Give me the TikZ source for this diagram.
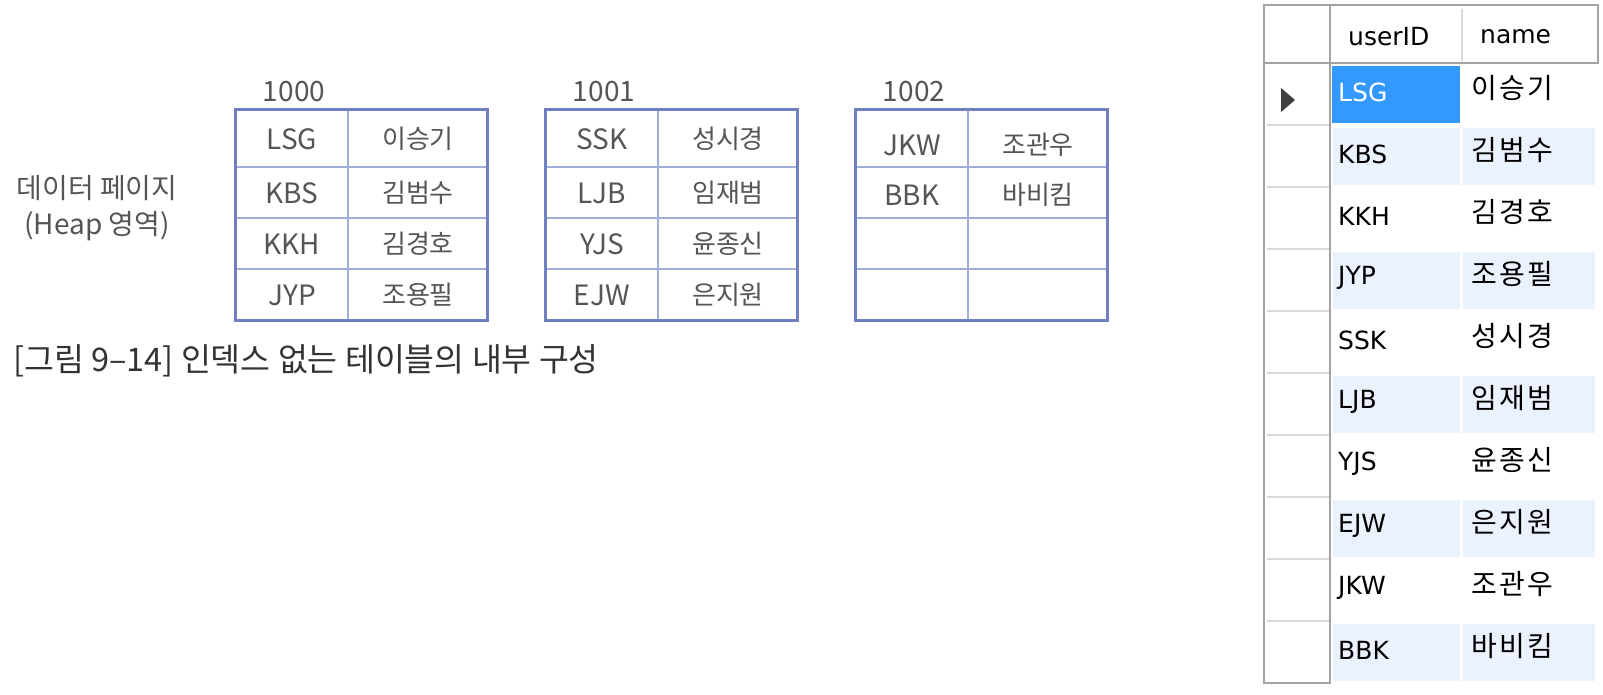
\documentclass[tikz,border=0pt]{standalone}
\usepackage{fontspec}
\setmainfont{Noto Sans CJK KR}
\newfontfamily\uifont{DejaVu Sans}
\newfontfamily\gridkr[LetterSpace=9]{Noto Sans CJK KR}
\usepackage{tikz}
\usetikzlibrary{positioning}

\definecolor{pageblue}{HTML}{6F7FBF}
\definecolor{pagesoft}{HTML}{A2AEDA}
\definecolor{cellgray}{HTML}{555555}
\definecolor{gridgray}{HTML}{A3A3A3}
\definecolor{gridsoft}{HTML}{DADADA}
\definecolor{stripeblue}{HTML}{EAF2FD}
\definecolor{selblue}{HTML}{3399FF}

\begin{document}
\begin{tikzpicture}[
  x=1pt, y=-1pt,
  tframe/.style={draw=pageblue, line width=3pt},
  tline/.style={draw=pagesoft, line width=1.4pt},
  cellid/.style={text=cellgray, inner sep=0pt, font=\fontsize{28}{32}\selectfont},
  cellnm/.style={text=cellgray, inner sep=0pt, font=\fontsize{26}{30}\selectfont},
  pageno/.style={text=cellgray, inner sep=0pt, font=\fontsize{28}{32}\selectfont},
  gridline/.style={draw=gridgray, line width=2.6pt},
  gridthin/.style={draw=gridsoft, line width=1.4pt},
  stripe/.style={fill=stripeblue},
  rowid/.style={anchor=west, inner sep=0pt, font=\uifont\fontsize{25}{30}\selectfont},
  rownm/.style={anchor=west, inner sep=0pt, font=\gridkr\fontsize{28}{32}\selectfont}
]
\useasboundingbox[fill=white] (0,0) rectangle (1603,695);

% data pages
\node[text=cellgray, align=center, font=\fontsize{28}{36}\selectfont] (heap) at (97,208) {데이터 페이지\\(Heap 영역)};
\foreach \t/\x in {0/235,1/545,2/855} {
  \draw[tline] (\x+113,110) -- (\x+113,320);
  \foreach \y in {167,218,269} \draw[tline] (\x,\y) -- (\x+252,\y);
  \draw[tframe] (\x,110) rectangle (\x+252,320);
  \node[pageno] (page\t) at (\x+59,92) {100\t};
}
\foreach \x/\r/\y/\id/\nm in {235/0/139/LSG/이승기, 235/1/193/KBS/김범수, 235/2/244/KKH/김경호, 235/3/295/JYP/조용필,
    545/4/139/SSK/성시경, 545/5/193/LJB/임재범, 545/6/244/YJS/윤종신, 545/7/295/EJW/은지원,
    855/8/145/JKW/조관우, 855/9/195/BBK/바비킴} {
  \node[cellid] (id\r) at (\x+57,\y) {\id};
  \node[cellnm] (nm\r) at (\x+183,\y) {\nm};
}
\node[anchor=west, inner sep=0pt, text=black!80, font=\fontsize{32.5}{36}\selectfont] (caption) at (13,361) {[그림 9–14] 인덱스 없는 테이블의 내부 구성};

% result grid
\foreach \i in {1,3,5,7,9} {
  \fill[stripe] (1333,66+62*\i) rectangle (1460,123+62*\i);
  \fill[stripe] (1463,66+62*\i) rectangle (1595,123+62*\i);
}
\fill[selblue] (1332,66) rectangle (1460,123);
\foreach \i in {1,...,9} \draw[gridthin] (1267,63+62*\i) -- (1329,63+62*\i);
\draw[gridthin] (1462,9) -- (1462,61);
\draw[gridline] (1263,5) -- (1598,5) -- (1598,63) -- (1263,63);
\draw[gridline] (1264,4) -- (1264,684);
\draw[gridline] (1330,4) -- (1330,684);
\draw[gridline] (1263,683) -- (1331,683);
\fill[black!75] (1281,88) -- (1295,100) -- (1281,112) -- cycle;
\node[rowid] (hdid) at (1348,37) {userID};
\node[rowid] (hdnm) at (1480,37) {name};
\node[rowid, text=white] (row0id) at (1338,92) {LSG};
\node[rownm] (row0nm) at (1471,88) {이승기};
\foreach \id/\nm [count=\i] in {KBS/김범수, KKH/김경호, JYP/조용필, SSK/성시경, LJB/임재범,
    YJS/윤종신, EJW/은지원, JKW/조관우, BBK/바비킴} {
  \node[rowid] (row\i id) at (1338,92+62*\i) {\id};
  \node[rownm] (row\i nm) at (1471,88+62*\i) {\nm};
}
\end{tikzpicture}
\end{document}
